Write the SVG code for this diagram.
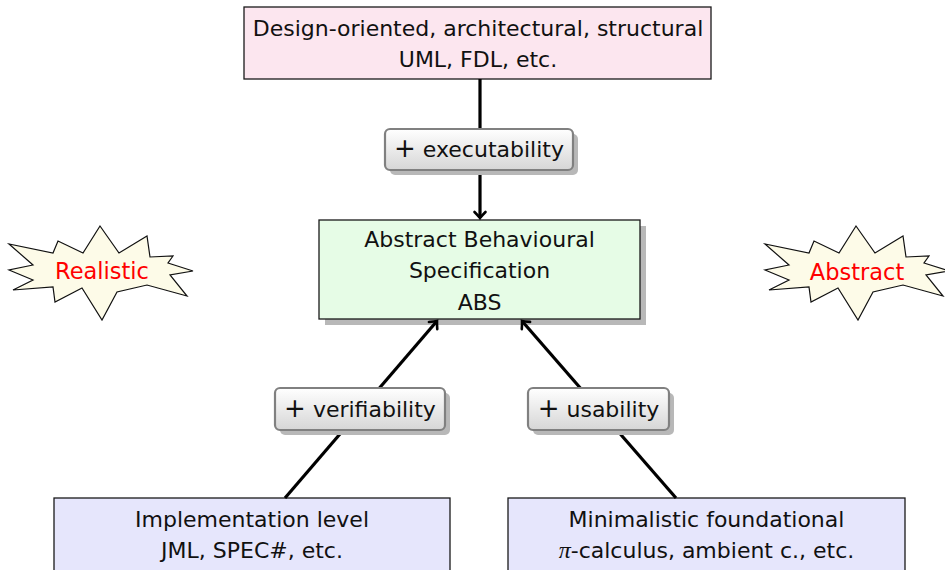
<svg xmlns="http://www.w3.org/2000/svg" width="945" height="570" viewBox="0 0 945 570">
<defs>
<style>
.box{stroke:#1a1a1a;stroke-width:1.3}
.t{font-family:"DejaVu Sans",sans-serif;font-size:22px;fill:#111;text-anchor:middle}
.st{font-family:"DejaVu Sans",sans-serif;font-size:22.5px;fill:#ff0000;text-anchor:middle}
.lbl{fill:url(#g);stroke:#808080;stroke-width:2.2}
.sh{fill:#b8b8b8}
.star{fill:#fdfbe8;stroke:#111;stroke-width:1.2;stroke-linejoin:miter}
.conn{stroke:#000;stroke-width:3.2;fill:none}
.plus{font-size:26px}
</style>
<linearGradient id="g" x1="0" y1="0" x2="0" y2="1">
<stop offset="0" stop-color="#ffffff"/>
<stop offset="1" stop-color="#d6d6d6"/>
</linearGradient>
<marker id="arr" markerUnits="userSpaceOnUse" markerWidth="16" markerHeight="16" viewBox="-8 -8 16 16" refX="0" refY="0" orient="auto">
<path d="M-6,-5.5 Q-2,-1.5 0,0 Q-2,1.5 -6,5.5" fill="none" stroke="#000" stroke-width="2.6" stroke-linecap="round"/>
</marker>
</defs>

<g id="top">
<rect class="box" x="244" y="7" width="467" height="72" fill="#fce6ef"/>
<text class="t" x="478" y="36">Design-oriented, architectural, structural</text>
<text class="t" x="478" y="67">UML, FDL, etc.</text>
</g>

<g id="realistic">
<polygon class="star" points="100,226 119,253 147,236 150,257 173,256 168,263 193,271 170,275 187,296 147,285 117,292 102,320 82,288 55,302 53,287 13,290 33,280 9,270 33,265 9,244 53,253 58,241 83,253"/>
<text class="st" x="102" y="279">Realistic</text>
</g>

<g id="abstract">
<polygon class="star" transform="translate(756,0)" points="100,226 119,253 147,236 150,257 173,256 168,263 193,271 170,275 187,296 147,285 117,292 102,320 82,288 55,302 53,287 13,290 33,280 9,270 33,265 9,244 53,253 58,241 83,253"/>
<text class="st" x="857" y="280">Abstract</text>
</g>

<g id="abs">
<rect class="sh" x="325" y="226" width="321" height="99"/>
<rect class="box" x="319" y="220" width="321" height="99" fill="#e6fce6"/>
<text class="t" x="479.5" y="247">Abstract Behavioural</text>
<text class="t" x="479.5" y="278">Specification</text>
<text class="t" x="479.5" y="310">ABS</text>
</g>

<g id="impl">
<rect class="box" x="54" y="498" width="396" height="80" fill="#e6e6fc"/>
<text class="t" x="252" y="527">Implementation level</text>
<text class="t" x="252" y="558">JML, SPEC#, etc.</text>
</g>

<g id="minimal">
<rect class="box" x="508" y="498" width="397" height="80" fill="#e6e6fc"/>
<text class="t" x="706.5" y="527">Minimalistic foundational</text>
<text class="t" x="706.5" y="558"><tspan font-style="italic" font-family="Liberation Serif,serif" font-size="24px">π</tspan>-calculus, ambient c., etc.</text>
</g>

<g id="connectors">
<line class="conn" x1="480" y1="79" x2="480" y2="218" marker-end="url(#arr)"/>
<line class="conn" x1="285" y1="498" x2="437" y2="321" marker-end="url(#arr)"/>
<line class="conn" x1="676" y1="498" x2="522" y2="321" marker-end="url(#arr)"/>
</g>

<g id="lbl-exec">
<rect class="sh" x="390" y="134" width="188" height="41" rx="5"/>
<rect class="lbl" x="385" y="129" width="188" height="41" rx="5"/>
<text class="t" x="479" y="157"><tspan class="plus">+</tspan> executability</text>
</g>

<g id="lbl-verif">
<rect class="sh" x="280" y="393" width="170" height="42" rx="5"/>
<rect class="lbl" x="275" y="388" width="170" height="42" rx="5"/>
<text class="t" x="360" y="417"><tspan class="plus">+</tspan> verifiability</text>
</g>

<g id="lbl-usab">
<rect class="sh" x="533" y="393" width="141" height="42" rx="5"/>
<rect class="lbl" x="528" y="388" width="141" height="42" rx="5"/>
<text class="t" x="598.5" y="417"><tspan class="plus">+</tspan> usability</text>
</g>
</svg>
